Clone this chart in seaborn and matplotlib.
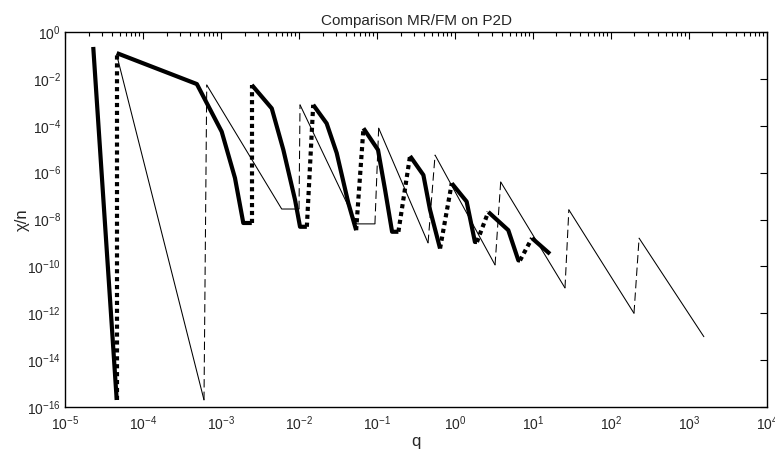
import matplotlib
matplotlib.use("Agg")
import matplotlib.pyplot as plt
import matplotlib.ticker as mticker
import numpy as np
import pandas as pd
import seaborn as sns

# MR (thick): one list per tooth, joined by dotted jumps
mr_q = [
    [2.3e-5, 4.6e-5],
    [4.6e-5, 4.9e-4, 1.02e-3, 1.51e-3, 1.93e-3, 2.48e-3],
    [2.48e-3, 4.47e-3, 6.3e-3, 8.9e-3, 1.03e-2, 1.26e-2],
    [1.52e-2, 2.26e-2, 3.04e-2, 4.29e-2, 5.4e-2],
    [6.7e-2, 0.103, 0.127, 0.156, 0.188],
    [0.265, 0.393, 0.478, 0.643],
    [0.908, 1.41, 1.80, 1.91],
    [2.67, 4.82, 6.49, 6.81],
    [9.7, 16.5],
]
mr_chi = [
    [0.23, 2.0e-16],
    [0.126, 6.0e-3, 5.6e-5, 5.9e-7, 7.1e-9, 7.1e-9],
    [5.5e-3, 5.5e-4, 9.3e-6, 6.8e-8, 4.9e-9, 4.9e-9],
    [7.8e-4, 1.26e-4, 6.9e-6, 5.0e-8, 3.5e-9],
    [7.8e-5, 9.3e-6, 1.8e-7, 3.0e-9, 3.0e-9],
    [5.1e-6, 7.9e-7, 2.6e-8, 5.8e-10],
    [3.5e-7, 5.8e-8, 1.1e-9, 1.1e-9],
    [2.1e-8, 3.5e-9, 1.8e-10, 1.8e-10],
    [1.6e-9, 3.4e-10],
]

# FM (thin): one list per tooth, joined by dashed jumps
fm_q = [
    [4.6e-5, 6.05e-4],
    [6.56e-4, 6.0e-3, 1.0e-2],
    [1.03e-2, 5.5e-2, 9.4e-2],
    [0.105, 0.451],
    [0.555, 3.26],
    [3.85, 25.7],
    [28.8, 197],
    [229, 1550],
]
fm_chi = [
    [0.105, 2.0e-16],
    [5.5e-3, 2.8e-8, 2.8e-8],
    [7.8e-4, 6.5e-9, 6.5e-9],
    [7.9e-5, 1.0e-9],
    [5.6e-6, 1.15e-10],
    [4.0e-7, 1.2e-11],
    [2.6e-8, 1.0e-12],
    [1.6e-9, 1.0e-13],
]


def teeth_frame(qs, chis):
    rows = []
    for i, (q, c) in enumerate(zip(qs, chis)):
        for a, b in zip(q, c):
            rows.append({"tooth": i, "q": a, "chi": b})
    return pd.DataFrame(rows)


def jumps_frame(qs, chis):
    rows = []
    for i in range(len(qs) - 1):
        rows.append({"jump": i, "q": qs[i][-1], "chi": chis[i][-1]})
        rows.append({"jump": i, "q": qs[i + 1][0], "chi": chis[i + 1][0]})
    return pd.DataFrame(rows)


sns.set_style("white")
plt.rcParams["font.family"] = ["Liberation Sans", "DejaVu Sans"]
plt.rcParams["mathtext.fontset"] = "custom"
plt.rcParams["mathtext.rm"] = "Liberation Sans"
plt.rcParams["mathtext.it"] = "Liberation Sans:italic"

fig = plt.figure(figsize=(7.75, 4.53), dpi=100)
ax = fig.add_axes([0.0839, 0.1015, 0.9058, 0.8279])

fm_teeth = teeth_frame(fm_q, fm_chi)
fm_jumps = jumps_frame(fm_q, fm_chi)
mr_teeth = teeth_frame(mr_q, mr_chi)
mr_jumps = jumps_frame(mr_q, mr_chi)

for _, d in fm_teeth.groupby("tooth"):
    sns.lineplot(data=d, x="q", y="chi", sort=False, estimator=None,
                 color="black", lw=0.75, ax=ax)
for _, d in fm_jumps.groupby("jump"):
    sns.lineplot(data=d, x="q", y="chi", sort=False, estimator=None,
                 color="black", lw=0.75, ax=ax, linestyle=(0, (8, 4)))
for _, d in mr_jumps.groupby("jump"):
    sns.lineplot(data=d, x="q", y="chi", sort=False, estimator=None,
                 color="black", lw=3, ax=ax, linestyle=(0, (1, 0.9)))
for _, d in mr_teeth.groupby("tooth"):
    sns.lineplot(data=d, x="q", y="chi", sort=False, estimator=None,
                 color="black", lw=3, ax=ax, solid_capstyle="butt")

ax.set_xscale("log")
ax.set_yscale("log")
ax.set_xlim(1e-5, 1e4)
ax.set_ylim(1e-16, 1e0)
ax.set_xticks([10.0 ** k for k in range(-5, 5)])
ax.xaxis.set_minor_locator(mticker.LogLocator(base=10, subs=np.arange(2, 10), numticks=20))
ax.xaxis.set_minor_formatter(mticker.NullFormatter())
ax.set_yticks([10.0 ** k for k in range(-16, 1, 2)])
ax.yaxis.set_minor_locator(mticker.NullLocator())

ax.tick_params(which="both", direction="in", top=True, right=True,
               labelsize=10, color="black", width=0.8)
ax.tick_params(which="major", length=5)
ax.tick_params(which="minor", length=3)
ax.tick_params(axis="y", pad=3)
ax.tick_params(axis="x", pad=5)
for s in ax.spines.values():
    s.set_color("black")
    s.set_linewidth(1.0)

ax.set_title("Comparison MR/FM on P2D", fontsize=11, pad=5)
ax.set_xlabel("q", fontsize=12, labelpad=1)
ax.set_ylabel("χ/n", fontsize=12, labelpad=-2)

fig.savefig("out.png", dpi=100)
